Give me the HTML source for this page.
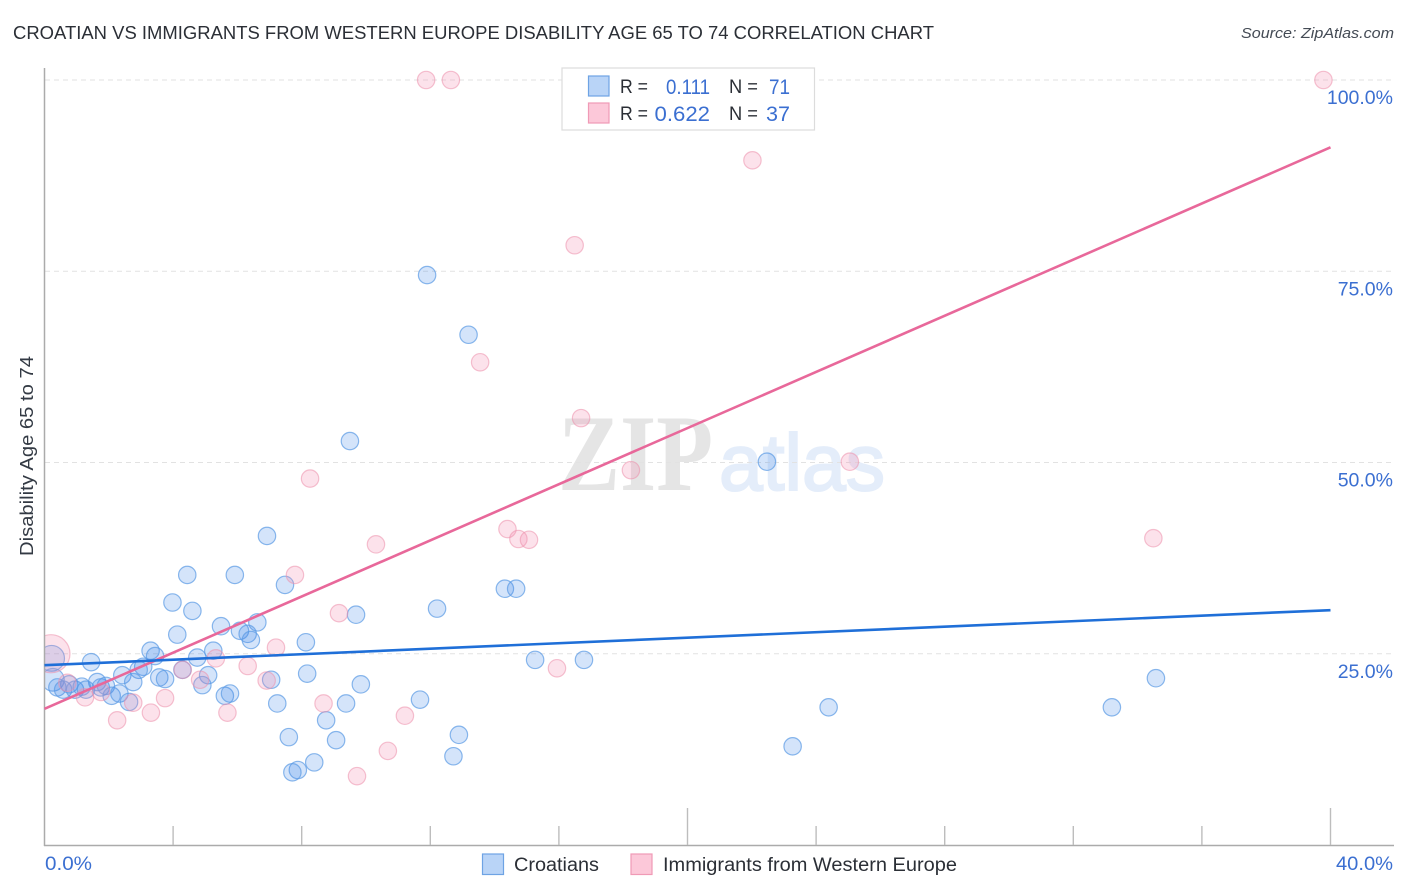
<!DOCTYPE html>
<html lang="en">
<head>
<meta charset="utf-8">
<title>Croatian vs Immigrants from Western Europe Disability Age 65 to 74 Correlation Chart</title>
<style>
html,body{margin:0;padding:0;background:#fff;}
body{width:1406px;height:892px;overflow:hidden;}
svg{display:block;font-family:"Liberation Sans",sans-serif;}
</style>
</head>
<body>
<svg id="chart" xmlns="http://www.w3.org/2000/svg" width="1406" height="892" viewBox="0 0 1406 892">
<rect width="1406" height="892" fill="#fff"/>
<text x="13" y="39" font-size="18.5" fill="#2b2f36" textLength="921" lengthAdjust="spacingAndGlyphs">CROATIAN VS IMMIGRANTS FROM WESTERN EUROPE DISABILITY AGE 65 TO 74 CORRELATION CHART</text>
<text x="1394" y="38" font-size="15" font-style="italic" fill="#444b55" text-anchor="end" textLength="153" lengthAdjust="spacingAndGlyphs">Source: ZipAtlas.com</text>
<g>
<text x="558" y="490" font-family="'Liberation Serif',serif" font-weight="bold" font-size="109" fill="#e5e5e5" textLength="155" lengthAdjust="spacingAndGlyphs">ZIP</text>
<text x="719" y="490" font-size="80" fill="#e4edfa" stroke="#e4edfa" stroke-width="2" textLength="166" lengthAdjust="spacingAndGlyphs">atlas</text>
</g>
<g id="grid"></g>
<g id="marks"></g>
<rect x="0" y="60" width="44" height="800" fill="#fff"/>
<g id="axes"></g>
<g id="lines"></g>
<text transform="translate(33 456) rotate(-90)" font-size="18" fill="#333a44" text-anchor="middle" textLength="200" lengthAdjust="spacingAndGlyphs">Disability Age 65 to 74</text>
<g>
<rect x="562" y="68" width="252.5" height="62" fill="#fff" stroke="#dcdcdc" stroke-width="1.2"/>
<rect x="588.5" y="76" width="20.5" height="20" fill="#b9d4f7" stroke="#6ea3e4" stroke-width="1.2"/>
<rect x="588.5" y="103" width="20.5" height="20" fill="#fcc8d9" stroke="#f09ab6" stroke-width="1.2"/>
<text x="620" y="93" font-size="19" fill="#2b2f36" textLength="28" lengthAdjust="spacingAndGlyphs">R =</text>
<text x="666" y="94" font-size="21" fill="#3b6fd1" textLength="44" lengthAdjust="spacingAndGlyphs">0.111</text>
<text x="729" y="93" font-size="19" fill="#2b2f36" textLength="29" lengthAdjust="spacingAndGlyphs">N =</text>
<text x="769" y="94" font-size="21" fill="#3b6fd1" textLength="21" lengthAdjust="spacingAndGlyphs">71</text>
<text x="620" y="120" font-size="19" fill="#2b2f36" textLength="28" lengthAdjust="spacingAndGlyphs">R =</text>
<text x="654.5" y="121" font-size="21" fill="#3b6fd1" textLength="55.5" lengthAdjust="spacingAndGlyphs">0.622</text>
<text x="729" y="120" font-size="19" fill="#2b2f36" textLength="29" lengthAdjust="spacingAndGlyphs">N =</text>
<text x="766" y="121" font-size="21" fill="#3b6fd1" textLength="24" lengthAdjust="spacingAndGlyphs">37</text>
</g>
<g>
<rect x="482.5" y="854" width="21" height="20.5" fill="#b9d4f7" stroke="#6ea3e4" stroke-width="1.2"/>
<text x="514" y="871" font-size="19" fill="#2b2f36" textLength="85" lengthAdjust="spacingAndGlyphs">Croatians</text>
<rect x="631" y="854" width="21" height="20.5" fill="#fcc8d9" stroke="#f09ab6" stroke-width="1.2"/>
<text x="663" y="871" font-size="19" fill="#2b2f36" textLength="294" lengthAdjust="spacingAndGlyphs">Immigrants from Western Europe</text>
</g>
</svg>
<script>
const yTickValues = [100, 75, 50, 25];
const yTickLabels = ["100.0%", "75.0%", "50.0%", "25.0%"];
const xTickValues = [4, 8, 12, 16, 20, 24, 28, 32, 36, 40];
const xMajorTicks = [20, 40];
const xEndLabels = ["0.0%", "40.0%"];

const croatianX = [4.44,5.92,7.48,3.98,4.60,9.69,4.13,5.49,6.62,6.08,6.32,6.42,8.13,3.30,3.44,5.25,4.75,1.45,0.22,3.07,2.93,2.42,5.09,4.29,3.57,3.75,2.76,4.91,7.05,8.17,9.84,0.26,1.64,0.77,0.40,0.58,0.95,1.16,1.29,1.75,1.91,2.09,2.33,2.63,5.61,5.77,7.24,9.38,8.76,7.60,9.07,8.39,7.88,7.71,11.90,13.19,9.50,22.47,6.92,12.21,14.32,14.67,15.26,16.78,11.68,12.89,12.72,23.27,24.39,33.20,34.57];
const croatianY = [35.3,35.3,34.0,31.7,30.6,30.1,27.5,28.6,29.1,28.0,27.6,26.8,26.5,25.4,24.7,25.4,24.5,23.9,24.4,23.3,22.9,22.2,22.2,22.9,21.9,21.7,21.3,20.9,21.6,22.4,21.0,21.6,21.3,21.0,20.6,20.3,20.3,20.7,20.3,20.6,20.8,19.5,19.8,18.7,19.5,19.8,18.5,18.5,16.3,14.1,13.7,10.8,9.8,9.5,74.5,66.7,52.8,50.1,40.4,30.9,33.5,33.5,24.2,24.2,19.0,14.4,11.6,12.9,18.0,18.0,21.8];
const croatianWeights = [1,1,1,1,1,1,1,1,1,1,1,1,1,1,1,1,1,1,2.2,1,1,1,1,1,1,1,1,1,1,1,1,1.7,1,1,1,1,1,1,1,1,1,1,1,1,1,1,1,1,1,1,1,1,1,1,1,1,1,1,1,1,1,1,1,1,1,1,1,1,1,1,1];

const immigrantX = [11.87,12.64,39.78,22.02,16.49,13.55,16.69,18.24,25.05,8.26,10.31,14.40,14.74,15.07,34.49,7.79,9.16,7.20,5.33,6.32,4.30,4.84,6.91,3.75,3.31,2.26,5.69,8.68,2.76,1.76,1.26,0.71,15.94,11.21,10.68,9.72,0.20];
const immigrantY = [100,100,100,89.5,78.4,63.1,55.8,49.0,50.1,47.9,39.3,41.3,40.0,39.9,40.1,35.3,30.3,25.8,24.4,23.4,22.9,21.6,21.5,19.2,17.3,16.3,17.3,18.5,18.6,20.0,19.3,21.2,23.1,16.9,12.3,9.0,25.0];
const immigrantWeights = [1,1,1,1,1,1,1,1,1,1,1,1,1,1,1,1,1,1,1,1,1,1,1,1,1,1,1,1,1,1,1,1,1,1,1,1,4.8];

const croatianTrend = [23.5, 30.7];
const immigrantTrend = [17.8, 91.2];
const trendX = [0, 40];

const NS = "http://www.w3.org/2000/svg";
function xScale(v) { return 44.5 + v * 32.15; }
function yScale(v) { return 845 - v * 7.65; }
function radius(w) { return 8.7 * Math.sqrt(w); }
function make(parent, tag, props) {
  const el = document.createElementNS(NS, tag);
  for (const k in props) el.setAttribute(k, props[k]);
  parent.appendChild(el);
  return el;
}

const grid = document.getElementById("grid");
const axes = document.getElementById("axes");
const marks = document.getElementById("marks");
const lines = document.getElementById("lines");

yTickValues.forEach(function (v, i) {
  const g = make(grid, "line", {x1: 45, x2: 1394, y1: yScale(v), y2: yScale(v), stroke: "#e2e2e2", "stroke-width": 1.1, "stroke-dasharray": "5 4"});
  
  
  const t = make(axes, "text", {x: 1393, y: yScale(v) + 24, "font-size": 19.5, fill: "#3b6fd1", "text-anchor": "end"});
  t.textContent = yTickLabels[i];
  
  
});

const yAxisLine = make(axes, "line", {x1: 44.5, x2: 44.5, y1: 68, y2: 846, stroke: "#ababab", "stroke-width": 1.5});


const xAxisLine = make(axes, "line", {x1: 44, x2: 1394, y1: 845.5, y2: 845.5, stroke: "#ababab", "stroke-width": 1.5});



xTickValues.forEach(function (v) {
  const major = xMajorTicks.indexOf(v) >= 0;
  const tick = make(axes, "line", {x1: xScale(v), x2: xScale(v), y1: major ? 808 : 826, y2: 845, stroke: "#bdbdbd", "stroke-width": 1.4});
  
  
});

const xLabelLeft = make(axes, "text", {x: 45, y: 870, "font-size": 19.5, fill: "#3b6fd1", textLength: 47, lengthAdjust: "spacingAndGlyphs"});
xLabelLeft.textContent = xEndLabels[0];


const xLabelRight = make(axes, "text", {x: 1336, y: 870, "font-size": 19.5, fill: "#3b6fd1", textLength: 57, lengthAdjust: "spacingAndGlyphs"});
xLabelRight.textContent = xEndLabels[1];



croatianX.forEach(function (x, i) {
  const c = make(marks, "circle", {cx: xScale(x), cy: yScale(croatianY[i]), r: radius(croatianWeights[i]), fill: "#3a85e6", "fill-opacity": 0.22, stroke: "#5a9ae4", "stroke-opacity": 0.7, "stroke-width": 1.2});
  
  
});
immigrantX.forEach(function (x, i) {
  const c = make(marks, "circle", {cx: xScale(x), cy: yScale(immigrantY[i]), r: radius(immigrantWeights[i]), fill: "#f58fb0", "fill-opacity": 0.26, stroke: "#ec8fab", "stroke-opacity": 0.55, "stroke-width": 1.2});
  
  
});

const immigrantLine = make(lines, "line", {x1: xScale(trendX[0]), x2: xScale(trendX[1]), y1: yScale(immigrantTrend[0]), y2: yScale(immigrantTrend[1]), stroke: "#e8689a", "stroke-width": 2.6});


const croatianLine = make(lines, "line", {x1: xScale(trendX[0]), x2: xScale(trendX[1]), y1: yScale(croatianTrend[0]), y2: yScale(croatianTrend[1]), stroke: "#1f6fd8", "stroke-width": 2.6});


</script>
</body>
</html>
